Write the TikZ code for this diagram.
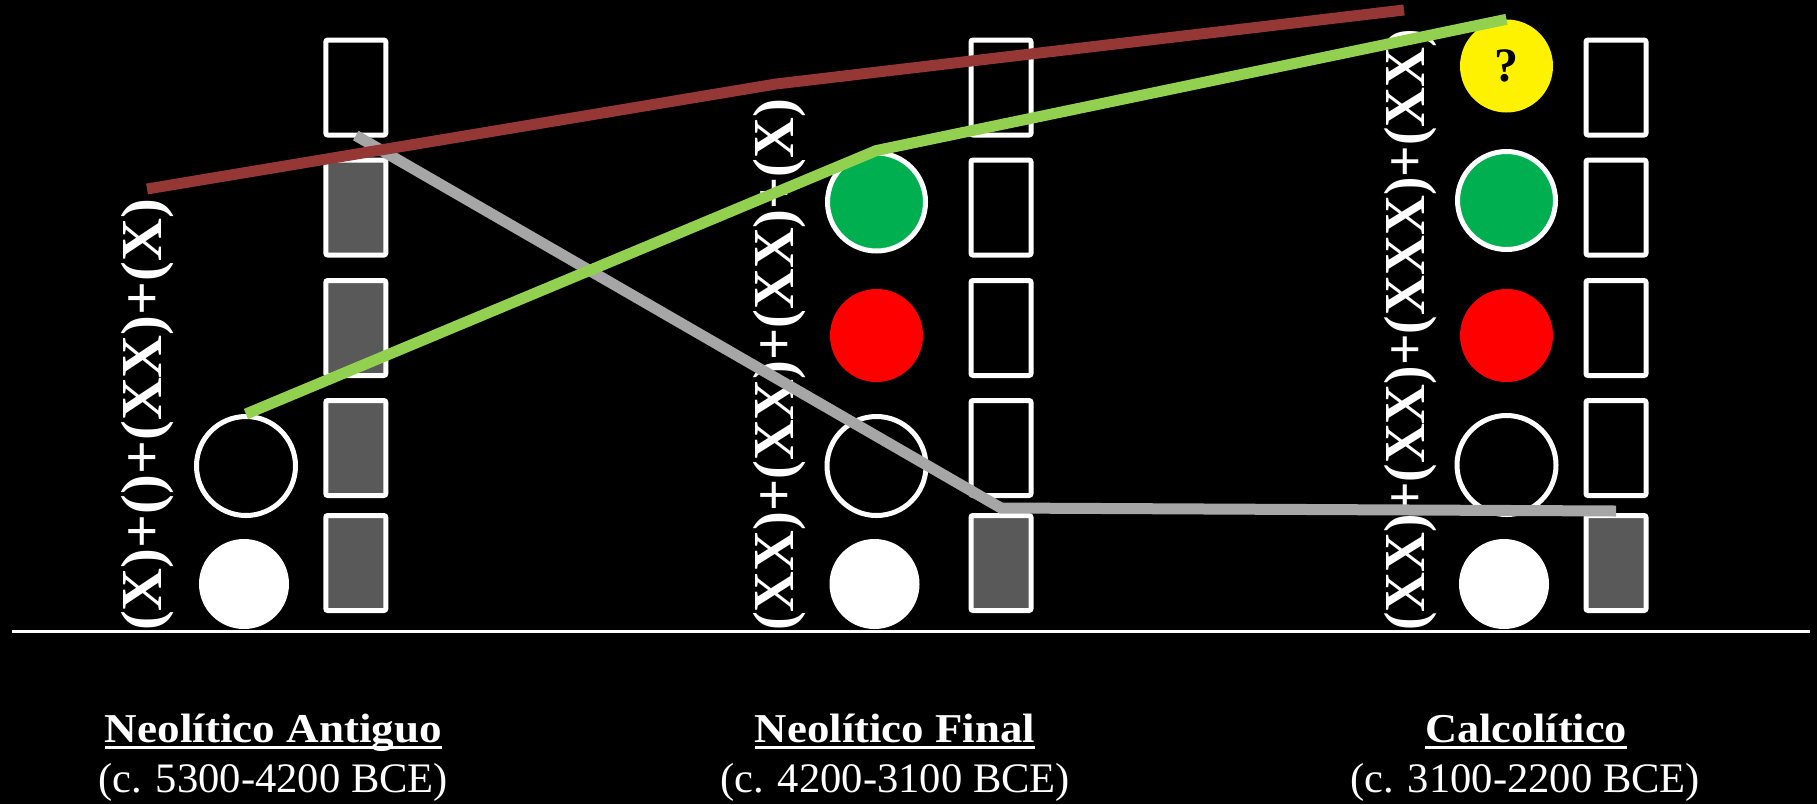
\documentclass[tikz,border=0pt]{standalone}
\usepackage{fontspec}
\setmainfont{Liberation Serif}
\usepackage{graphicx}
\definecolor{brownline}{HTML}{953735}
\definecolor{greenline}{HTML}{92D050}
\definecolor{greyline}{HTML}{A6A6A6}
\definecolor{rectgrey}{HTML}{595959}
\definecolor{circgreen}{HTML}{00B050}
\begin{document}
\begin{tikzpicture}[x=1pt,y=-1pt,
  box/.style={draw=white,line width=5pt,rounded corners=2pt,minimum width=60pt,minimum height=95pt,inner sep=0pt,fill=black},
  boxg/.style={box,fill=rectgrey},
  ring/.style={circle,draw=white,line width=5pt,minimum size=99pt,inner sep=0pt,fill=black},
  dot/.style={circle,inner sep=0pt,minimum size=90pt,fill=white},
  reddot/.style={circle,inner sep=0pt,minimum size=93pt,fill=red},
  greendot/.style={circle,draw=white,line width=5pt,minimum size=98pt,inner sep=0pt,fill=circgreen},
  yellowdot/.style={circle,inner sep=0pt,minimum size=93pt,fill=yellow,font=\fontsize{48}{52}\selectfont\bfseries,text=black},
  formula/.style={rotate=90,anchor=west,inner sep=0pt,text=white,font=\fontsize{58}{62}\selectfont\bfseries},
  title/.style={anchor=base,inner sep=0pt,text=white,font=\fontsize{41}{48}\selectfont\bfseries},
  date/.style={anchor=base,inner sep=0pt,text=white,font=\fontsize{42}{48}\selectfont},
  conn/.style={line width=11pt}
]
\fill[black] (0,0) rectangle (1817,804);
\useasboundingbox (0,0) rectangle (1817,804);

% column 1
\node[box]  (r11) at (355.8,87.5) {};
\node[boxg] (r12) at (355.8,207.5) {};
\node[boxg] (r13) at (355.8,328) {};
\node[boxg] (r14) at (355.8,448) {};
\node[boxg] (r15) at (355.8,563) {};
\node[ring] (c1o) at (246,466) {};
\node[dot]  (c1w) at (244,584) {};
\node[formula] (f1) at (148,631) {\resizebox{432pt}{\height}{(X)+()+(XX)+(X)}};

% column 2
\node[box]  (r21) at (1001,87.5) {};
\node[box]  (r22) at (1001,207.5) {};
\node[box]  (r23) at (1001,328) {};
\node[box]  (r24) at (1001,448) {};
\node[boxg] (r25) at (1001,563) {};
\node[greendot] (c2g) at (876.5,202) {};
\node[reddot]   (c2r) at (876.5,335.5) {};
\node[ring]     (c2o) at (876.5,466) {};
\node[dot]      (c2w) at (874.5,584) {};
\node[formula] (f2) at (780,631) {\resizebox{532pt}{\height}{(XX)+(XX)+(XX)+(X)}};

% column 3
\node[box]  (r31) at (1616,87.5) {};
\node[box]  (r32) at (1616,207.5) {};
\node[box]  (r33) at (1616,328) {};
\node[box]  (r34) at (1616,448) {};
\node[boxg] (r35) at (1616,563) {};
\node[yellowdot] (c3y) at (1506.5,66) {?};
\node[greendot]  (c3g) at (1506.5,200.5) {};
\node[reddot]    (c3r) at (1506.5,335.5) {};
\node[ring]      (c3o) at (1506.5,465) {};
\node[dot]       (c3w) at (1504,584) {};
\node[formula] (f3) at (1411,631) {\resizebox{602pt}{\height}{(XX)+(XX)+(XXX)+(XX)}};

% ground line
\coordinate (gl) at (12,631);
\coordinate (gr) at (1810,631);
\draw[white,line width=3pt] (gl) -- (gr);

% connectors
\draw[conn,greyline] ([yshift=2pt]r11.south) -- ([yshift=5pt]r25.north) -- ([yshift=2pt]r35.north);
\coordinate (b1) at (147,189);
\coordinate (b2) at (776,84);
\coordinate (b3) at (1404,10);
\draw[conn,brownline] (b1) -- (b2) -- (b3);
\draw[conn,greenline] (c1o.north) -- (c2g.north) -- (c3y.north);

% labels
\node[title] (t1) at (273.5,742) {\resizebox{337pt}{\height}{Neolítico Antiguo}};
\node[title] (t2) at (895,742) {\resizebox{280pt}{\height}{Neolítico Final}};
\node[title] (t3) at (1526,742) {\resizebox{202pt}{\height}{Calcolítico}};
\foreach \t in {t1,t2,t3}
  \draw[white,line width=3pt] ([yshift=-5pt]\t.base west) -- ([yshift=-5pt]\t.base east);
\node[date] (d1) at (273,792) {\resizebox{350pt}{\height}{(c. 5300-4200 BCE)}};
\node[date] (d2) at (895,792) {\resizebox{350pt}{\height}{(c. 4200-3100 BCE)}};
\node[date] (d3) at (1525,792) {\resizebox{350pt}{\height}{(c. 3100-2200 BCE)}};
\end{tikzpicture}
\end{document}
